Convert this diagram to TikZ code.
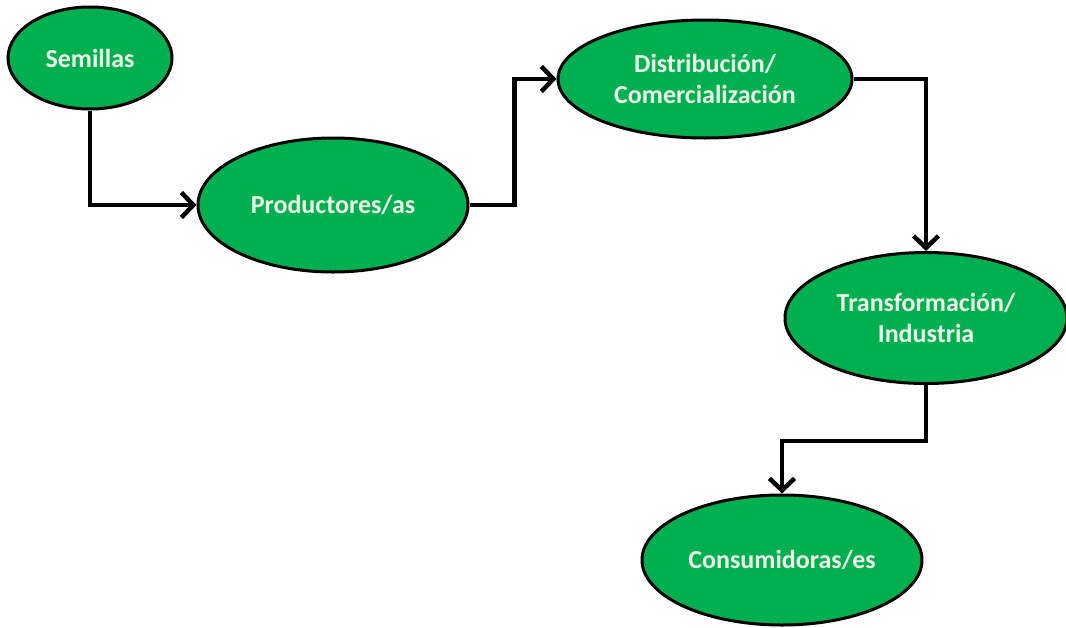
\documentclass[tikz,border=0pt]{standalone}
\usepackage{fontspec}
\setmainfont{Carlito}
\usetikzlibrary{shapes.geometric,arrows.meta}
\definecolor{stagegreen}{RGB}{0,176,80}
\definecolor{stagetext}{RGB}{236,250,232}
\tikzset{
  stage/.style={ellipse, draw=black, line width=3pt, fill=stagegreen,
    inner sep=0pt, align=center, text=stagetext,
    font=\fontsize{26}{31}\selectfont\bfseries},
  flow/.style={line width=4.5pt, line join=miter,
    -{Straight Barb[length=12pt,width=25pt,line width=4.5pt]}}
}
\begin{document}
\begin{tikzpicture}[x=1pt,y=-1pt]
\useasboundingbox (0,0) rectangle (1066,627);

\node[stage, minimum width=164pt, minimum height=102pt] (sem)  at (90,58)   {Semillas};
\node[stage, minimum width=270pt, minimum height=134pt] (prod) at (333,205)  {Productores/as};
\node[stage, minimum width=294pt, minimum height=118pt] (dist) at (705,79)  {Distribución/\\Comercialización};
\node[stage, minimum width=282pt, minimum height=131pt] (trans) at (926,318) {Transformación/\\Industria};
\node[stage, minimum width=280pt, minimum height=130pt] (cons) at (782,560) {Consumidoras/es};

\draw[flow] (sem.south) |- (prod.west);
\draw[flow] (prod.east) -- ++(45,0) |- (dist.west);
\draw[flow] (dist.east) -| (trans.north);
\draw[flow] (trans.south) -- ++(0,56) -| (cons.north);
\end{tikzpicture}
\end{document}
